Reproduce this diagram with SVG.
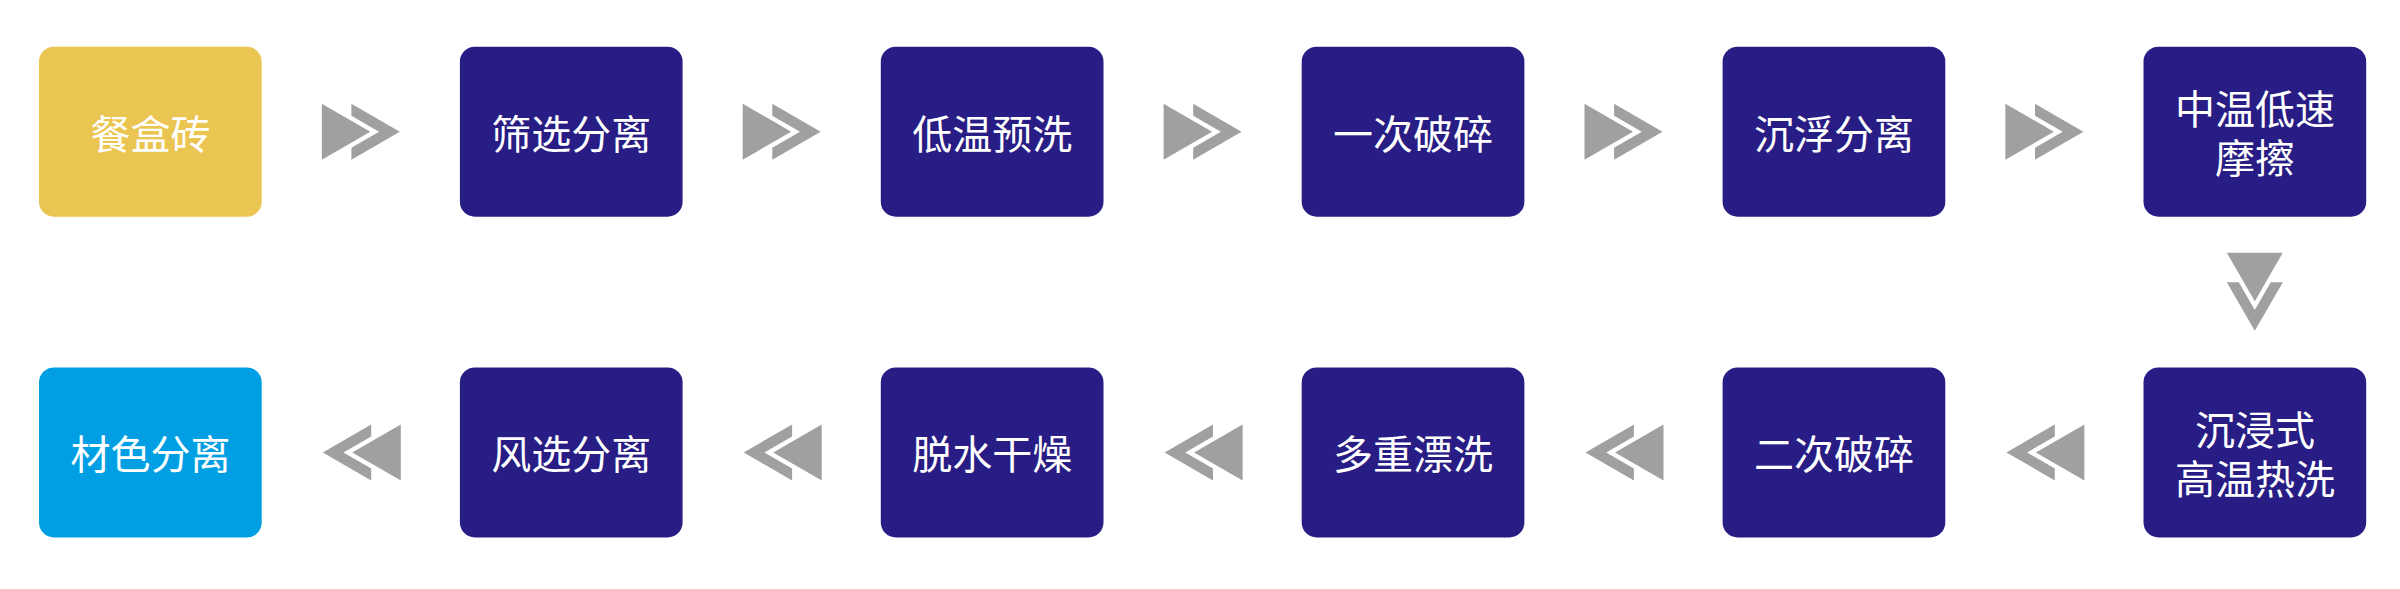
<svg xmlns="http://www.w3.org/2000/svg" xmlns:xlink="http://www.w3.org/1999/xlink" width="2400" height="589" viewBox="0 0 2400 589">
<style>
.box{fill:#281D84}
.start{fill:#EBC551}
.end{fill:#009FE3}
.lbl{fill:#FFFFFF;font-family:"Noto Sans CJK SC","Noto Sans",sans-serif;font-size:40px;text-anchor:middle;dominant-baseline:central}
.arr{fill:#A0A0A0}
</style>
<defs>
<g id="chev">
<polygon points="0,-28 48.5,0 0,28"/>
<polygon points="29.6,-28 78,0 29.6,28 29.6,16 57.3,0 29.6,-16"/>
</g>
</defs>
<rect width="2400" height="589" fill="#FFFFFF"/>
<g id="connectors" class="arr">
<use xlink:href="#chev" transform="translate(321.8,131.7)"/>
<use xlink:href="#chev" transform="translate(742.7,131.7)"/>
<use xlink:href="#chev" transform="translate(1163.6,131.7)"/>
<use xlink:href="#chev" transform="translate(1584.5,131.7)"/>
<use xlink:href="#chev" transform="translate(2005.4,131.7)"/>
<use xlink:href="#chev" transform="translate(2254.8,252.7) rotate(90)"/>
<use xlink:href="#chev" transform="translate(2084.4,452.4) scale(-1,1)"/>
<use xlink:href="#chev" transform="translate(1663.5,452.4) scale(-1,1)"/>
<use xlink:href="#chev" transform="translate(1242.6,452.4) scale(-1,1)"/>
<use xlink:href="#chev" transform="translate(821.7,452.4) scale(-1,1)"/>
<use xlink:href="#chev" transform="translate(400.8,452.4) scale(-1,1)"/>
</g>
<g id="n1"><rect class="start" x="39" y="46.7" width="222.7" height="170" rx="15"/><text class="lbl" x="150.4" y="131.7">餐盒砖</text></g>
<g id="n2"><rect class="box" x="459.9" y="46.7" width="222.7" height="170" rx="15"/><text class="lbl" x="571.3" y="131.7">筛选分离</text></g>
<g id="n3"><rect class="box" x="880.8" y="46.7" width="222.7" height="170" rx="15"/><text class="lbl" x="992.2" y="131.7">低温预洗</text></g>
<g id="n4"><rect class="box" x="1301.7" y="46.7" width="222.7" height="170" rx="15"/><text class="lbl" x="1413.1" y="131.7">一次破碎</text></g>
<g id="n5"><rect class="box" x="1722.6" y="46.7" width="222.7" height="170" rx="15"/><text class="lbl" x="1834" y="131.7">沉浮分离</text></g>
<g id="n6"><rect class="box" x="2143.5" y="46.7" width="222.7" height="170" rx="15"/><text class="lbl"><tspan x="2254.9" y="107.2">中温低速</tspan><tspan x="2254.9" y="156.2">摩擦</tspan></text></g>
<g id="n7"><rect class="box" x="2143.5" y="367.4" width="222.7" height="170" rx="15"/><text class="lbl"><tspan x="2254.9" y="428.4">沉浸式</tspan><tspan x="2254.9" y="477.4">高温热洗</tspan></text></g>
<g id="n8"><rect class="box" x="1722.6" y="367.4" width="222.7" height="170" rx="15"/><text class="lbl" x="1834" y="452.4">二次破碎</text></g>
<g id="n9"><rect class="box" x="1301.7" y="367.4" width="222.7" height="170" rx="15"/><text class="lbl" x="1413.1" y="452.4">多重漂洗</text></g>
<g id="n10"><rect class="box" x="880.8" y="367.4" width="222.7" height="170" rx="15"/><text class="lbl" x="992.2" y="452.4">脱水干燥</text></g>
<g id="n11"><rect class="box" x="459.9" y="367.4" width="222.7" height="170" rx="15"/><text class="lbl" x="571.3" y="452.4">风选分离</text></g>
<g id="n12"><rect class="end" x="39" y="367.4" width="222.7" height="170" rx="15"/><text class="lbl" x="150.4" y="452.4">材色分离</text></g>
</svg>
